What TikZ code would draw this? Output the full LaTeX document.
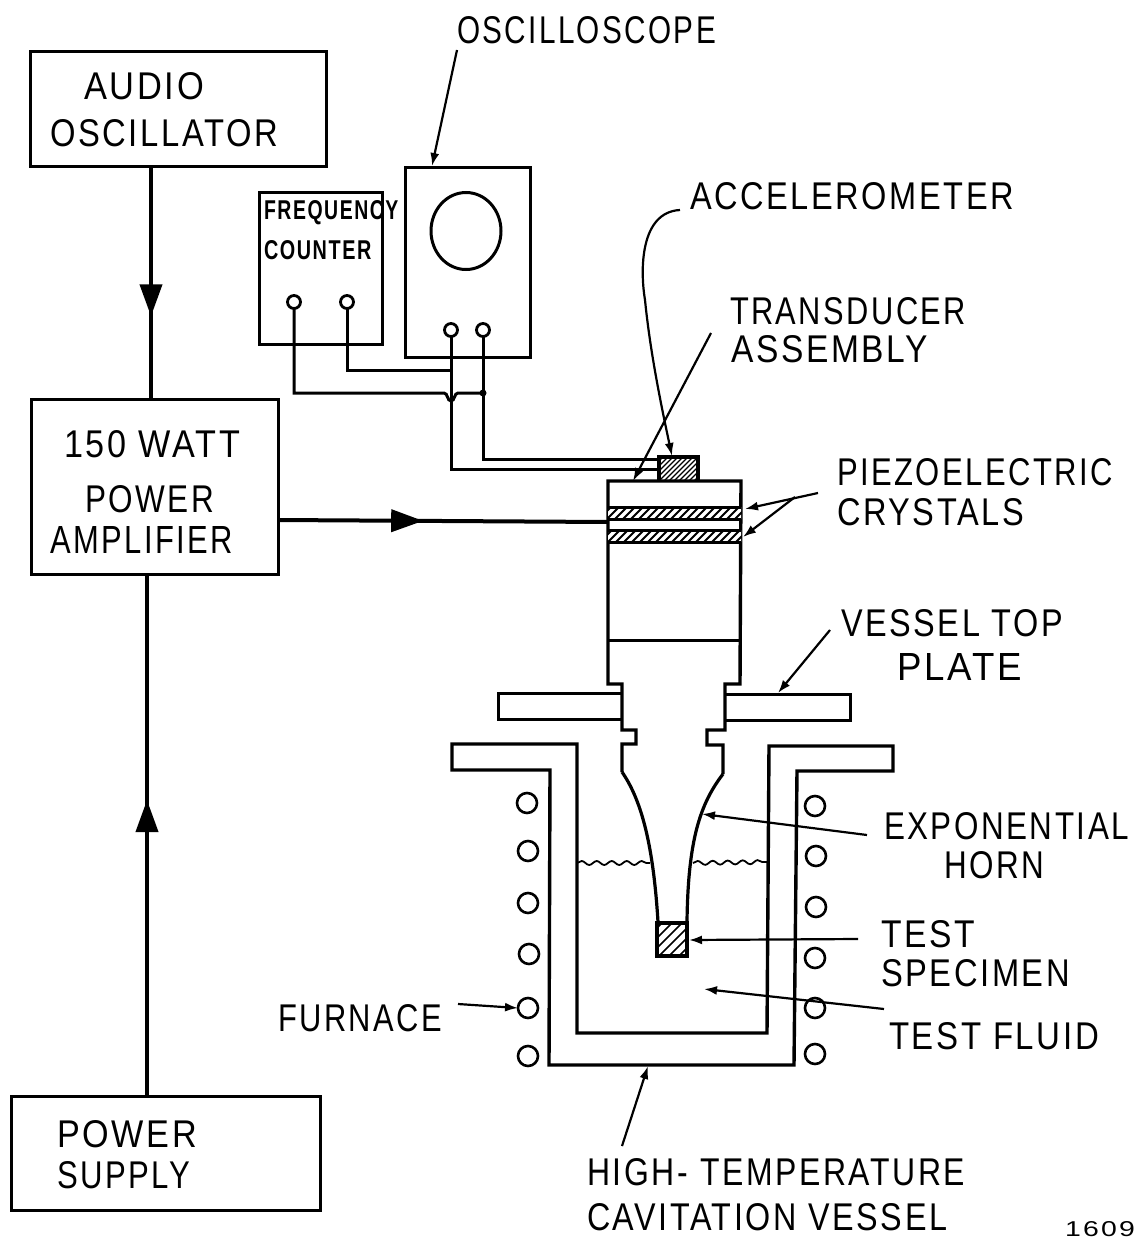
\documentclass[tikz,border=0pt]{standalone}
\usepackage{fontspec}
\usepackage{graphicx}
\setmainfont{Liberation Sans}[LetterSpace=8]
\usetikzlibrary{arrows.meta,decorations.markings,decorations.pathmorphing,shapes.geometric}
\newcommand{\fitw}[3][27]{\resizebox{#2pt}{#1pt}{#3}}
\tikzset{
  x=1pt,y=-1pt,
  boxn/.style={draw=black,line width=3pt,inner sep=0pt,outer sep=0pt,rectangle},
  lbl/.style={inner sep=0pt,outer sep=0pt,anchor=west,text=black},
  term/.style={circle,draw=black,line width=2.8pt,fill=white,minimum size=13pt,inner sep=0pt,outer sep=0pt},
  coil/.style={circle,draw=black,line width=2.6pt,minimum size=20pt,inner sep=0pt,outer sep=0pt},
  wire/.style={line width=3pt,line join=miter},
  body/.style={line width=3.4pt,line join=miter},
  thin/.style={line width=2.2pt,-{Latex[length=13pt,width=9pt]}},
  sig/.style={line width=4pt},
  sigm/.style={sig,postaction={decorate},decoration={markings,mark=at position #1 with {\arrow{Triangle[length=32pt,width=22pt]}}}},
}
\begin{document}
\begin{tikzpicture}
\useasboundingbox (0,0) rectangle (1139,1239);
% boxes
\node[boxn,minimum width=296pt,minimum height=114pt] (audio) at (178,109) {};
\node[boxn,minimum width=123pt,minimum height=152pt] (freq) at (320.5,268) {};
\node[boxn,minimum width=125pt,minimum height=190pt] (osc) at (467.5,262) {};
\node[boxn,minimum width=247pt,minimum height=175pt] (amp) at (154.5,486.5) {};
\node[boxn,minimum width=309pt,minimum height=114pt] (psu) at (165.5,1153) {};
\node[ellipse,draw=black,line width=3pt,minimum width=70pt,minimum height=77pt,inner sep=0,outer sep=0] (screen) at (466,231) {};
% terminals
\node[term] (f1) at (294,302) {};
\node[term] (f2) at (347,302) {};
\node[term] (o1) at (451,330) {};
\node[term] (o2) at (483,330) {};
% junctions and ends
\coordinate (audioOut) at (151,166);
\coordinate (ampIn) at (151,399);
\coordinate (psuOut) at (147,1096);
\coordinate (ampInB) at (147,574);
\coordinate (ampOut) at (278,520);
\coordinate (crystal) at (608,522);
\coordinate (w1) at (451,370);
\coordinate (w2a) at (444,393);
\coordinate (w2b) at (458,393);
\coordinate (w3) at (483,393);
\coordinate (accelA) at (659,459);
\coordinate (accelB) at (659,469);
% signal lines
\draw[sigm=0.645] (audioOut) -- (ampIn);
\draw[sigm=0.44] (ampOut) -- (crystal);
\draw[sigm=0.567] (psuOut) -- (ampInB);
% wires
\draw[wire] (f2.south) |- (w1);
\draw[wire] (f1.south) |- (w2a) .. controls (448,393) and (447,401) .. (451,401) .. controls (455,401) and (454,393) .. (w2b) -- (w3);
\draw[wire] (o1.south) |- (accelB);
\draw[wire] (o2.south) |- (accelA);
\fill (w3) circle (3.5pt);
% transducer
\draw[body] (622,772) -- (622,744) -- (636,744) -- (636,730) -- (622,730) -- (622,684) -- (608,684) -- (608,481) -- (741,481) -- (740,684) -- (725,684) -- (725,730) -- (707,730) -- (707,745) -- (723,745) -- (723,774);
\draw[line width=3pt] (608,640) -- (740,640);
\draw[line width=3.2pt] (622,772) .. controls (640,798) and (653,840) .. (658,922);
\draw[line width=3.2pt] (723,774) .. controls (700,804) and (688,840) .. (687,922);
% crystals
\begin{scope}
\clip (608,507) rectangle (741,519) (608,530) rectangle (741,542);
\fill[black] (608,507) rectangle (741,542);
\foreach \q in {544,552,...,760} \draw[white,line width=3.4pt] (\q,546) -- (\q+43,503);
\end{scope}
\draw[line width=3pt] (608,507) -- (741,507) (608,519) -- (741,519) (608,530) -- (741,530) (608,542) -- (741,542);
% accelerometer
\begin{scope}
\clip (659,457) rectangle (698,481);
\foreach \q in {620,625,...,710} \draw[line width=1.3pt] (\q,490) -- (\q+40,450);
\end{scope}
\draw[body] (659,481) -- (659,457) -- (698,457) -- (698,481);
% top plate
\draw[line width=3pt] (622,693) -- (498,693) -- (498,719) -- (622,719);
\draw[line width=3pt] (725,694) -- (850,694) -- (850,720) -- (725,720);
% vessel
\draw[body] (452,744) -- (577,744) -- (577,1033) -- (767,1033) -- (769,746) -- (893,746) -- (893,771) -- (797,771) -- (794,1065) -- (549,1065) -- (550,770) -- (452,770) -- cycle;
% liquid
\draw[line width=1.8pt,decorate,decoration={snake,amplitude=2pt,segment length=15pt}] (577,863) -- (650,863);
\draw[line width=1.8pt,decorate,decoration={snake,amplitude=2pt,segment length=15pt}] (693,863) -- (767,862);
% specimen
\begin{scope}
\clip (657,923) rectangle (687,956);
\foreach \q in {600,610,...,700} \draw[line width=1.6pt] (\q,965) -- (\q+50,915);
\end{scope}
\draw[body] (657,923) rectangle (687,956);
% coils
\node[coil] (cl1) at (527,803) {};
\node[coil] (cl2) at (528,851) {};
\node[coil] (cl3) at (528,903) {};
\node[coil] (cl4) at (529,954) {};
\node[coil] (cl5) at (528,1008) {};
\node[coil] (cl6) at (528,1056) {};
\node[coil] (cr1) at (815,806) {};
\node[coil] (cr2) at (816,856) {};
\node[coil] (cr3) at (816,907) {};
\node[coil] (cr4) at (815,958) {};
\node[coil] (cr5) at (815,1008) {};
\node[coil] (cr6) at (815,1054) {};
% labels
\node[lbl] (tOsc) at (457,30) {\fitw{259}{OSCILLOSCOPE}};
\node[lbl] (tAu) at (84,86) {\fitw{120}{AUDIO}};
\node[lbl] (tOs) at (50,133) {\fitw{228}{OSCILLATOR}};
\node[lbl] (tFr) at (264,213) {\fitw[19]{136}{\textbf{FREQUENCY}}};
\node[lbl] (tCo) at (264,250) {\fitw[19]{109}{\textbf{COUNTER}}};
\node[lbl] (tAc) at (690,196) {\fitw{324}{ACCELEROMETER}};
\node[lbl] (tTr) at (730,311) {\fitw{236}{TRANSDUCER}};
\node[lbl] (tAs) at (731,349) {\fitw{197}{ASSEMBLY}};
\node[lbl] (tPz) at (837,472) {\fitw{276}{PIEZOELECTRIC}};
\node[lbl] (tCr) at (837,512) {\fitw{187}{CRYSTALS}};
\node[lbl] (tWa) at (64,444) {\fitw{176}{150 WATT}};
\node[lbl] (tPo) at (85,499) {\fitw{129}{POWER}};
\node[lbl] (tAm) at (50,540) {\fitw{183}{AMPLIFIER}};
\node[lbl] (tVe) at (841,623) {\fitw{222}{VESSEL TOP}};
\node[lbl] (tPl) at (897,667) {\fitw{125}{PLATE}};
\node[lbl] (tEx) at (884,826) {\fitw{245}{EXPONENTIAL}};
\node[lbl] (tHo) at (944,865) {\fitw{100}{HORN}};
\node[lbl] (tTe) at (881,934) {\fitw{94}{TEST}};
\node[lbl] (tSp) at (881,973) {\fitw{189}{SPECIMEN}};
\node[lbl] (tFu) at (278,1018) {\fitw{164}{FURNACE}};
\node[lbl] (tFl) at (889,1036) {\fitw{210}{TEST FLUID}};
\node[lbl] (tPw) at (57,1134) {\fitw{140}{POWER}};
\node[lbl] (tSu) at (57,1175) {\fitw{133}{SUPPLY}};
\node[lbl] (tHi) at (587,1172) {\fitw{378}{HIGH-\kern4pt TEMPERATURE}};
\node[lbl] (tCa) at (587,1217) {\fitw{360}{CAVITATION VESSEL}};
\node[lbl] (tNo) at (1065,1229) {\fitw[15]{70}{1609}};
% leader lines
\coordinate (oscTop) at (432,166);
\draw[thin] (457,50) -- (oscTop);
\coordinate (acTip) at (672,456);
\draw[thin] (680,210) .. controls (640,212) and (640,270) .. (645,300) .. controls (650,350) and (660,400) .. (acTip);
\coordinate (trTip) at (633,481);
\draw[thin] (711,333) -- (trTip);
\coordinate (pzA) at (745,509);
\coordinate (pzB) at (743,537);
\coordinate (pzS) at (818,493);
\draw[thin] (pzS) -- (pzA);
\draw[thin] (795,497) -- (pzB);
\coordinate (plTip) at (778,693);
\draw[thin] (830,630) -- (plTip);
\coordinate (hoTip) at (702,814);
\draw[thin] (867,835) -- (hoTip);
\coordinate (spTip) at (689,940);
\draw[thin] (858,939) -- (spTip);
\coordinate (flTip) at (704,989);
\draw[thin] (884,1009) -- (flTip);
\draw[thin] (458,1004) -- (cl5.west);
\coordinate (veTip) at (648,1066);
\draw[thin] (622,1146) -- (veTip);
\end{tikzpicture}
\end{document}
